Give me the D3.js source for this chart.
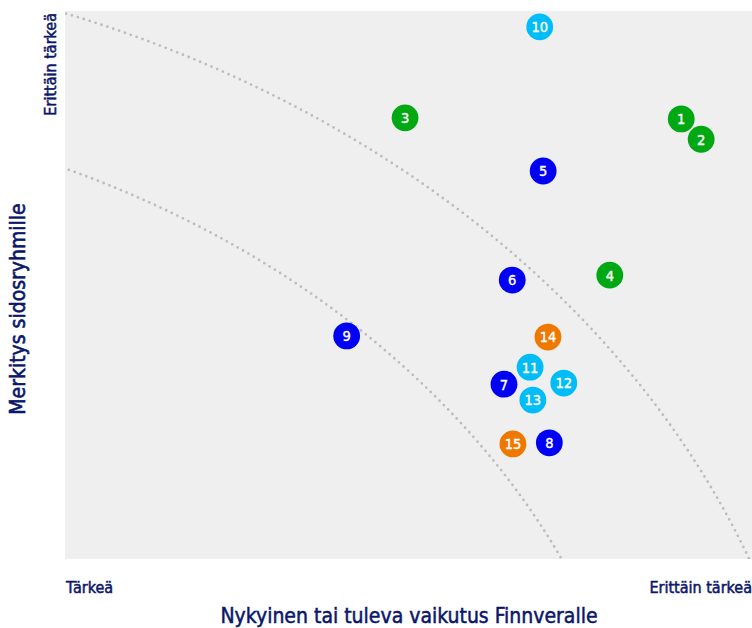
<!DOCTYPE html>
<html>
<head>
<meta charset="utf-8">
<script src="https://cdn.jsdelivr.net/npm/d3@7"></script>
<style>
  body { margin: 0; background: #fff; }
  text { font-family: "DejaVu Sans Condensed", "DejaVu Sans", sans-serif; }
</style>
</head>
<body>
<script>
var WIDTH = 752;
var HEIGHT = 628;

// topic numbers, x = impact on Finnvera, y = importance for stakeholders (0..10)
var ids = [1, 2, 3, 4, 5, 6, 7, 8, 9, 10, 11, 12, 13, 14, 15];
var impact = [8.97, 9.26, 4.95, 7.93, 6.96, 6.51, 6.39, 7.05, 4.10, 6.91, 6.77, 7.26, 6.81, 7.03, 6.52];
var relevance = [8.03, 7.66, 8.05, 5.18, 7.08, 5.09, 3.19, 2.12, 4.07, 9.71, 3.50, 3.21, 2.90, 4.05, 2.10];
var groups = ["g", "g", "g", "g", "b", "b", "b", "b", "b", "c", "c", "c", "c", "o", "o"];

var groupNames = ["g", "b", "c", "o"];
var groupColors = ["#00a813", "#0000f5", "#00bdf7", "#ef7800"];

// dotted reference arcs: ellipse centre (-6,-6) in data units, [rx, ry]
var arcRadii = [[17.05, 17.05], [14.55, 14.41]];

var axisLow = "Tärkeä";
var axisHigh = "Erittäin tärkeä";
var xTitle = "Nykyinen tai tuleva vaikutus Finnveralle";
var yTitle = "Merkitys sidosryhmille";

var margin = {top: 11, right: 0, bottom: 69, left: 65};
var innerW = WIDTH - margin.left - margin.right;
var innerH = HEIGHT - margin.top - margin.bottom;
var navy = "#0b176a";

var svg = d3.select("body")
  .append("svg")
  .attr("width", WIDTH)
  .attr("height", HEIGHT);

var x = d3.scaleLinear().domain([0, 10]).range([0, innerW]);
var y = d3.scaleLinear().domain([0, 10]).range([innerH, 0]);
var color = d3.scaleOrdinal().domain(groupNames).range(groupColors);

var g = svg.append("g")
  .attr("transform", "translate(" + margin.left + "," + margin.top + ")");

svg.append("clipPath").attr("id", "plotclip")
  .append("rect").attr("width", innerW).attr("height", innerH);

g.append("rect")
  .attr("width", innerW)
  .attr("height", innerH)
  .attr("fill", "#efefef");

var line = d3.line()
  .x(function (d) { return x(d[0]); })
  .y(function (d) { return y(d[1]); });

arcRadii.forEach(function (r) {
  var pts = [];
  for (var a = 0; a <= 90; a += 0.5) {
    var t = a * Math.PI / 180;
    pts.push([-6 + r[0] * Math.cos(t), -6 + r[1] * Math.sin(t)]);
  }
  g.append("path")
    .attr("clip-path", "url(#plotclip)")
    .attr("d", line(pts))
    .attr("fill", "none")
    .attr("stroke", "#bdbdbd")
    .attr("stroke-width", 2.8)
    .attr("stroke-linecap", "round")
    .attr("stroke-dasharray", "0 6.2");
});

var data = ids.map(function (id, i) {
  return {id: id, x: impact[i], y: relevance[i], group: groups[i]};
});

var dots = g.selectAll("g.dot")
  .data(data)
  .enter()
  .append("g")
  .attr("class", "dot")
  .attr("transform", function (d) {
    return "translate(" + x(d.x) + "," + y(d.y) + ")";
  });

dots.append("circle")
  .attr("r", 13.4)
  .attr("fill", function (d) { return color(d.group); });

dots.append("text")
  .attr("text-anchor", "middle")
  .attr("dy", "0.37em")
  .attr("fill", "#fff")
  .attr("stroke", "#fff")
  .attr("stroke-width", 0.4)
  .style("font-size", "14.5px")
  .text(function (d) { return d.id; });

// end labels
function smallLabel(sel) {
  sel.attr("fill", navy)
    .attr("stroke", navy)
    .attr("stroke-width", 0.5)
    .style("font-size", "16px");
}

svg.append("text")
  .attr("x", margin.left + 1)
  .attr("y", 593)
  .call(smallLabel)
  .text(axisLow);

svg.append("text")
  .attr("x", WIDTH)
  .attr("y", 593)
  .attr("text-anchor", "end")
  .call(smallLabel)
  .text(axisHigh);

svg.append("text")
  .attr("transform", "translate(56," + (margin.top + 2) + ") rotate(-90)")
  .attr("text-anchor", "end")
  .call(smallLabel)
  .text(axisHigh);

// axis titles
svg.append("text")
  .attr("x", 409)
  .attr("y", 623)
  .attr("text-anchor", "middle")
  .attr("fill", navy)
  .attr("stroke", navy)
  .attr("stroke-width", 0.5)
  .style("font-size", "21px")
  .text(xTitle);

svg.append("text")
  .attr("transform", "translate(25,309) rotate(-90)")
  .attr("text-anchor", "middle")
  .attr("fill", navy)
  .attr("stroke", navy)
  .attr("stroke-width", 0.6)
  .style("font-size", "21px")
  .text(yTitle);
</script>
</body>
</html>
